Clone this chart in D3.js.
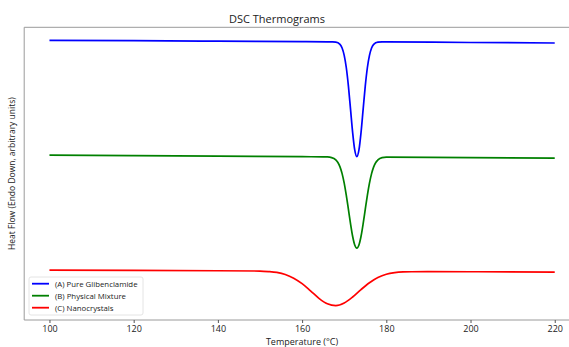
<!DOCTYPE html>
<html>
<head>
<meta charset="utf-8">
<script src="https://cdn.jsdelivr.net/npm/d3@7"></script>
<style>
  body { margin: 0; background: #fff; }
  text { font-family: "Open Sans", sans-serif; fill: #222; }
</style>
</head>
<body>
<svg id="chart"></svg>
<script>
// temperatures (°C) and heat flow readings (arbitrary units)
var tempsA = [100, 120, 140, 160, 166, 167, 168, 169, 169.5, 170, 170.5, 171, 171.5, 172, 172.5, 173,
              173.5, 174, 174.5, 175, 175.5, 176, 176.5, 177, 178, 179, 180, 200, 220];
var flowA  = [28.00, 27.96, 27.91, 27.87, 27.85, 27.84, 27.82, 27.59, 27.23, 26.49, 25.25, 23.41, 21.11, 18.79, 17.02, 16.35,
              17.02, 18.79, 21.11, 23.41, 25.25, 26.49, 27.23, 27.59, 27.82, 27.84, 27.84, 27.78, 27.73];

var tempsB = [100, 120, 140, 160, 165, 166, 167, 168, 168.5, 169, 169.5, 170, 170.5, 171, 171.5, 172, 172.5, 173,
              173.5, 174, 174.5, 175, 175.5, 176, 176.5, 177, 177.5, 178, 179, 180, 200, 220];
var flowB  = [16.50, 16.45, 16.40, 16.35, 16.33, 16.32, 16.26, 16.03, 15.77, 15.33, 14.65, 13.70, 12.48, 11.08, 9.64, 8.38, 7.51, 7.20,
              7.51, 8.38, 9.64, 11.08, 12.48, 13.70, 14.65, 15.33, 15.77, 16.02, 16.25, 16.30, 16.25, 16.20];

var tempsC = [100, 120, 140, 150, 152, 154, 156, 158, 160, 162, 164, 166, 168, 170, 172, 174, 176, 178,
              180, 182, 184, 186, 190, 200, 220];
var flowC  = [5.00, 4.97, 4.93, 4.90, 4.85, 4.76, 4.56, 4.19, 3.64, 2.92, 2.17, 1.62, 1.43, 1.70, 2.30, 3.05, 3.73, 4.25,
              4.58, 4.74, 4.81, 4.83, 4.84, 4.83, 4.80];

var seriesNames = ["(A) Pure Glibenclamide", "(B) Physical Mixture", "(C) Nanocrystals"];
var seriesColors = ["#0000ff", "#008000", "#ff0000"];
var xTicks = [100, 120, 140, 160, 180, 200, 220];

var width = 569,
    height = 347;

var svg = d3.select("#chart")
    .attr("width", width)
    .attr("height", height);

// axes box (right edge falls outside the picture)
var boxLeft = 24.2, boxRight = 580, boxTop = 27.3, boxBottom = 320;

var x = d3.scaleLinear().domain([94, 226]).range([boxLeft, boxRight]);
var y = d3.scaleLinear().domain([0, 29.3]).range([boxBottom, boxTop]);

var series = [
  { name: seriesNames[0], color: seriesColors[0], pts: d3.zip(tempsA, flowA) },
  { name: seriesNames[1], color: seriesColors[1], pts: d3.zip(tempsB, flowB) },
  { name: seriesNames[2], color: seriesColors[2], pts: d3.zip(tempsC, flowC) }
];

var line = d3.line()
    .x(function(d) { return x(d[0]); })
    .y(function(d) { return y(d[1]); })
    .curve(d3.curveMonotoneX);

svg.selectAll(".trace")
  .data(series)
  .enter().append("path")
    .attr("class", "trace")
    .attr("d", function(d) { return line(d.pts); })
    .attr("fill", "none")
    .attr("stroke", function(d) { return d.color; })
    .attr("stroke-width", 1.7);

// spines
svg.append("path")
    .attr("d", "M" + boxRight + "," + boxTop + "H" + boxLeft + "V" + boxBottom + "H" + boxRight)
    .attr("fill", "none")
    .attr("stroke", "#9a9a9a")
    .attr("stroke-width", 1);

// x axis ticks
var xAxis = svg.append("g")
    .attr("transform", "translate(0," + boxBottom + ")")
    .call(d3.axisBottom(x).tickValues(xTicks).tickSize(3).tickPadding(3).tickFormat(d3.format("d")));
xAxis.select(".domain").remove();
xAxis.selectAll(".tick line").attr("stroke", "#555");
xAxis.selectAll(".tick text")
    .style("font-size", "9px")
    .style("fill", "#222")
    .style("font-family", "'Open Sans', sans-serif");

// title and labels
svg.append("text")
    .attr("x", 277).attr("y", 22.5)
    .attr("text-anchor", "middle")
    .style("font-size", "11px")
    .text("DSC Thermograms");

svg.append("text")
    .attr("x", 302).attr("y", 344.5)
    .attr("text-anchor", "middle")
    .style("font-size", "9px")
    .text("Temperature (°C)");

svg.append("text")
    .attr("transform", "translate(15," + ((boxTop + boxBottom) / 2) + ") rotate(-90)")
    .attr("text-anchor", "middle")
    .style("font-size", "8.5px")
    .text("Heat Flow (Endo Down, arbitrary units)");

// legend
var legend = svg.append("g").attr("transform", "translate(29,277)");
legend.append("rect")
    .attr("width", 114).attr("height", 38)
    .attr("rx", 2)
    .attr("fill", "#fff")
    .attr("fill-opacity", 0.8)
    .attr("stroke", "#dddddd")
    .attr("stroke-width", 0.8);

var entry = legend.selectAll(".entry")
  .data(series)
  .enter().append("g")
    .attr("class", "entry")
    .attr("transform", function(d, i) { return "translate(0," + (6.7 + i * 12) + ")"; });

entry.append("line")
    .attr("x1", 3).attr("x2", 20)
    .attr("stroke", function(d) { return d.color; })
    .attr("stroke-width", 1.8);

entry.append("text")
    .attr("x", 26).attr("y", 2.8)
    .style("font-size", "7.8px")
    .text(function(d) { return d.name; });
</script>
</body>
</html>
